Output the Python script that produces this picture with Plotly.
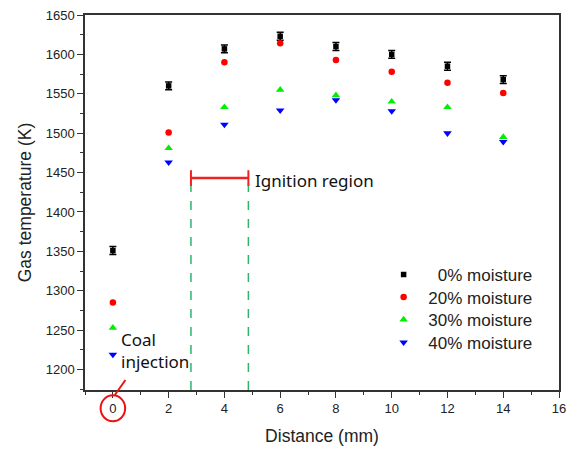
import plotly.graph_objects as go

# ---- data ----
distance_mm = [0, 2, 4, 6, 8, 10, 12, 14]
temp_0pct = [1351, 1560, 1607, 1623, 1610, 1600, 1585, 1568]
temp_20pct = [1285, 1501, 1590, 1614, 1593, 1578, 1564, 1551]
temp_30pct = [1253, 1481, 1533, 1555, 1548, 1540, 1533, 1495]
temp_40pct = [1219, 1463, 1511, 1529, 1542, 1528, 1500, 1489]
err_0pct = [5, 5, 5, 5, 5, 5, 5, 5]

series_names = ["   0% moisture", " 20% moisture", " 30% moisture", " 40% moisture"]

# annotation anchors (data units)
ignition_x = [2.80, 4.86]
ignition_y = 1443
y_min, y_max = 1174, 1650
x_min, x_max = -1, 16

FONT = "Liberation Sans, Arial, sans-serif"
ANN_FONT = "Noto Sans, DejaVu Sans, sans-serif"

fig = go.Figure()

fig.add_trace(go.Scatter(
    x=distance_mm, y=temp_0pct, mode="markers", name=series_names[0], legend="legend",
    marker=dict(symbol="square", size=5.5, color="#000000"),
    error_y=dict(type="data", array=err_0pct, color="#000000", thickness=1.5, width=3.5),
))
fig.add_trace(go.Scatter(
    x=distance_mm, y=temp_20pct, mode="markers", name=series_names[1], legend="legend2",
    marker=dict(symbol="circle", size=6.5, color="#ff0000"),
))
fig.add_trace(go.Scatter(
    x=distance_mm, y=temp_30pct, mode="markers", name=series_names[2], legend="legend3",
    marker=dict(symbol="triangle-up", size=7.5, color="#00ee00"),
))
fig.add_trace(go.Scatter(
    x=distance_mm, y=temp_40pct, mode="markers", name=series_names[3], legend="legend4",
    marker=dict(symbol="triangle-down", size=7.5, color="#0000ff"),
))

shapes = []
# green dashed boundaries of ignition region
for xv in ignition_x:
    shapes.append(dict(type="line", xref="x", yref="y", x0=xv, x1=xv,
                       y0=y_min, y1=ignition_y - 8,
                       line=dict(color="#2fb36f", width=1.5, dash="dash")))
# red bar with end caps
shapes.append(dict(type="line", xref="x", yref="y", x0=ignition_x[0], x1=ignition_x[1],
                   y0=ignition_y, y1=ignition_y, line=dict(color="#ee2222", width=2.5)))
for xv in ignition_x:
    shapes.append(dict(type="line", xref="x", yref="y", x0=xv, x1=xv,
                       y0=ignition_y - 10, y1=ignition_y + 10,
                       line=dict(color="#ee2222", width=2)))
# circle around the 0 tick label and pointer line
shapes.append(dict(type="circle", xref="x", yref="paper", x0=-0.44, x1=0.44,
                   y0=-0.0835, y1=-0.0141, line=dict(color="#ee1111", width=2)))
shapes.append(dict(type="line", xref="x", yref="paper", x0=0.07, x1=0.45,
                   y0=-0.0133, y1=0.0267, line=dict(color="#ee1111", width=2)))

annotations = [
    dict(x=ignition_x[1] + 0.18, y=ignition_y, xref="x", yref="y", text="Ignition region",
         showarrow=False, xanchor="left", yanchor="middle", yshift=-2,
         font=dict(family=ANN_FONT, size=17, color="#111111")),
    dict(x=0.22, y=1224, xref="x", yref="y", text="Coal<br>injection",
         showarrow=False, xanchor="left", yanchor="middle", align="left",
         font=dict(family=ANN_FONT, size=17, color="#111111")),
]

axis_common = dict(
    showline=True, linecolor="#333333", linewidth=1.5, mirror=True,
    ticks="outside", ticklen=6, tickwidth=1.2, tickcolor="#333333",
    showgrid=False, zeroline=False, automargin=False,
    tickfont=dict(family=FONT, size=13, color="#222222"),
)

legend_font = dict(family=FONT, size=17, color="#222222")
legend_x = 0.63
legend_tops = [0.3547, 0.2947, 0.2347, 0.1741]
legend_common = dict(x=legend_x, xanchor="left", yanchor="top",
                     bgcolor="rgba(0,0,0,0)", font=legend_font, itemsizing="trace")

title_font = dict(family=FONT, size=17.5, color="#222222")

fig.update_layout(
    width=577, height=451,
    margin=dict(l=85, r=18, t=15, b=61, autoexpand=False),
    paper_bgcolor="white", plot_bgcolor="white",
    showlegend=True,
    legend=dict(y=legend_tops[0], **legend_common),
    legend2=dict(y=legend_tops[1], **legend_common),
    legend3=dict(y=legend_tops[2], **legend_common),
    legend4=dict(y=legend_tops[3], **legend_common),
    xaxis=dict(range=[x_min, x_max], dtick=2, tick0=0,
               minor=dict(dtick=1, ticks="outside", ticklen=3, tickcolor="#333333"),
               title=dict(text="Distance (mm)", font=title_font, standoff=14),
               **axis_common),
    yaxis=dict(range=[y_min, y_max], dtick=50, tick0=1200,
               minor=dict(dtick=25, ticks="outside", ticklen=3, tickcolor="#333333"),
               title=dict(text="Gas temperature (K)", font=title_font, standoff=10),
               **axis_common),
    shapes=shapes,
    annotations=annotations,
)

fig.write_html(
    "out.html",
    config={"displayModeBar": False},
    post_script="document.body.style.margin='0';document.body.style.overflow='hidden';",
)
